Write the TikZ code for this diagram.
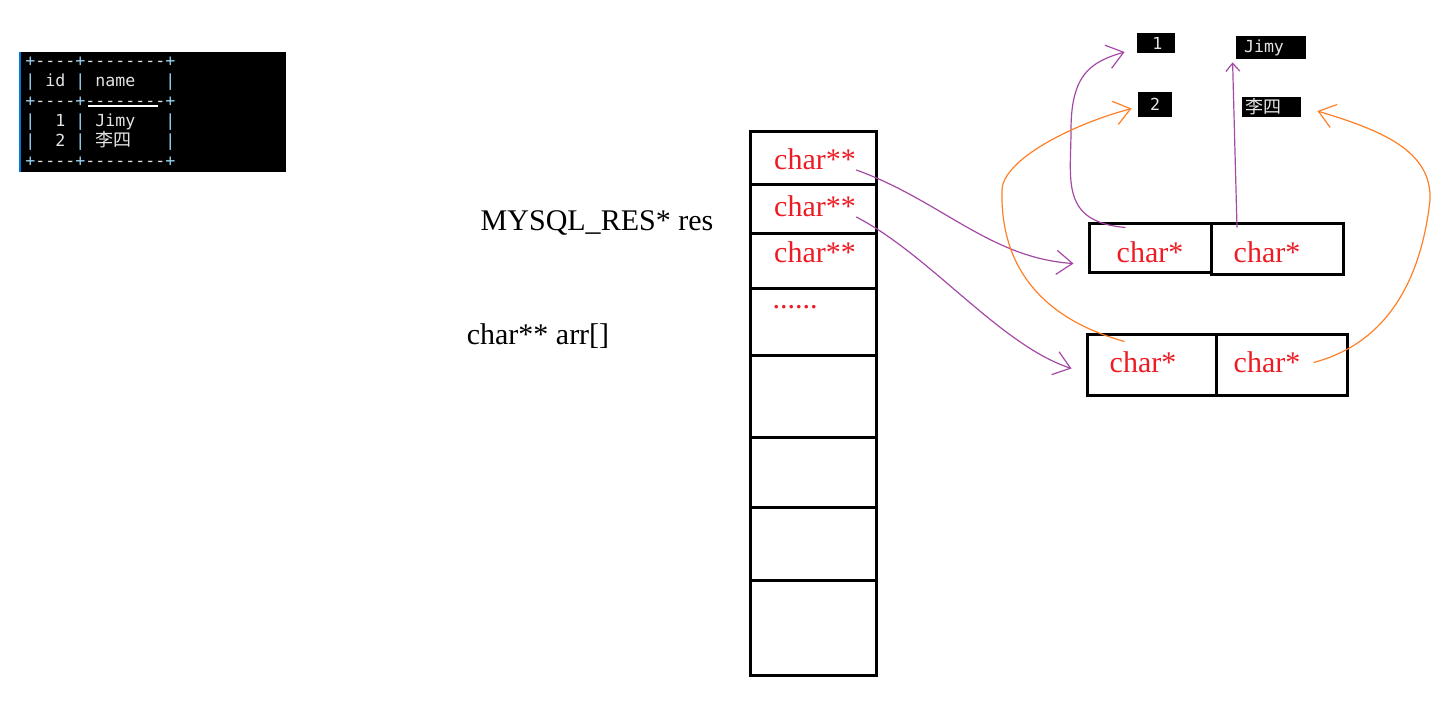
\documentclass[tikz,border=0pt]{standalone}
\usepackage{fontspec}
\setmainfont{Liberation Serif}
\setmonofont{DejaVu Sans Mono}
\newfontfamily\cjk{Noto Sans CJK SC}
\usetikzlibrary{arrows.meta}
\definecolor{inkred}{RGB}{237,28,36}
\definecolor{inkpurple}{RGB}{163,73,164}
\definecolor{inkorange}{RGB}{255,127,39}
\definecolor{termtxt}{RGB}{228,228,228}
\definecolor{termbd}{RGB}{150,210,240}
\definecolor{termedge}{RGB}{0,120,215}
\newcommand{\tb}[1]{\textcolor{termbd}{#1}}

\begin{document}
\begin{tikzpicture}[x=.5pt,y=-.5pt,
    cell/.style={draw,line width=1.5pt,minimum width=63pt,inner sep=0pt},
    lbl/.style={font=\fontsize{15}{18}\selectfont},
    ptr/.style={lbl,text=inkred,inner sep=0pt},
    val/.style={fill=black,text=termtxt,font=\ttfamily\fontsize{8.3}{10}\selectfont,inner sep=0pt},
    tline/.style={anchor=west,inner sep=0pt,text=termtxt,font=\ttfamily\fontsize{8.3}{10}\selectfont,text height=6pt,text depth=1.5pt},
    pa/.style={inkpurple,line width=.6pt,-{Straight Barb[length=8pt,width=12pt]}},
    oa/.style={inkorange,line width=.6pt,-{Straight Barb[length=8pt,width=12pt]}}
  ]
    \useasboundingbox (0,0) rectangle (1439,709);
    % query result in the terminal
    \fill (20,52) rectangle (286,172);
    \draw[termedge,line width=1pt] (20,52) -- (20,172);
    \node[tline] (l1) at (25,62) {\tb{+}----\tb{+}--------\tb{+}};
    \node[tline] (l2) at (25,82) {\tb{|}~id~\tb{|}~name~~~\tb{|}};
    \node[tline] (l3) at (25,102) {\tb{+}----\tb{+}--------\tb{+}};
    \node[tline] (l4) at (25,122) {\tb{|}~~1~\tb{|}~Jimy~~~\tb{|}};
    \node[tline] (l5) at (25,142) {\tb{|}~~2~\tb{|}~\makebox[20pt][l]{\cjk\fontsize{9}{10}\selectfont 李四}~~~\tb{|}};
    \node[tline] (l6) at (25,162) {\tb{+}----\tb{+}--------\tb{+}};
    \draw[white,line width=.6pt] (88,106) -- (158,106);
    % labels
    \node[lbl] (res) at (597,223) {MYSQL\_RES* res};
    \node[lbl] (arr) at (538,336) {char** arr[]};
    % the array of rows
    \foreach \n/\y/\h in {1/157.5/26.5,2/208.5/24.5,3/260.5/27.5,4/321.5/33.5,5/396/41,6/472/35,7/543.5/36.5,8/627.5/47.5}
      {\node[cell,minimum height=\h pt] (a\n) at (813,\y) {};}
    \node[ptr] (s1) at (815,159) {char**};
    \node[ptr] (s2) at (815,206) {char**};
    \node[ptr] (s3) at (815,252) {char**};
    \node[ptr] (dots) at (795,307) {......};
    % rows of fields
    \node[cell,minimum width=61pt,minimum height=24.5pt] (p1) at (1150,247.5) {};
    \node[cell,minimum width=66pt,minimum height=25.5pt] (p2) at (1277,248.5) {};
    \node[cell,minimum width=64.5pt,minimum height=30.5pt] (q1) at (1151.5,364.5) {};
    \node[cell,minimum width=65.5pt,minimum height=30.5pt] (q2) at (1281.5,364.5) {};
    \node[ptr] (t1) at (1150,252) {char*};
    \node[ptr] (t2) at (1267,252) {char*};
    \node[ptr] (t3) at (1143,362) {char*};
    \node[ptr] (t4) at (1267,362) {char*};
    % values
    \node[val,minimum width=19pt,minimum height=10pt] (b1) at (1156,43) {\,1};
    \node[val,minimum width=35pt,minimum height=11.5pt,text width=27pt,align=left,inner xsep=4pt] (bj) at (1271,47.5) {Jimy};
    \node[val,minimum width=17pt,minimum height=12.5pt] (b2) at (1155,104.5) {2};
    \node[val,minimum width=29.5pt,minimum height=10pt,text width=26.5pt,align=left,inner xsep=1.5pt,font=\cjk\fontsize{9}{10}\selectfont] (bl) at (1271.5,107) {李四};
    % pointers
    \draw[pa] (s1.south east) .. controls (940,200) and (990,258) .. ([shift={(-7pt,-8pt)}]p1.west);
    \draw[pa] (s2.south east) .. controls (930,255) and (1000,345) .. ([shift={(-7pt,-2pt)}]q1.west);
    \draw[pa] ([shift={(19pt,-3pt)}]p1.north west) .. controls (1060,222) and (1071,180) .. (1071,130)
      .. controls (1071,75) and (1090,62) .. ([shift={(-6pt,-4.5pt)}]b1.west);
    \draw[pa,-{Straight Barb[length=4pt,width=7pt]}] ([shift={(-20pt,-3pt)}]p2.north) -- ([shift={(-1.5pt,-1.5pt)}]bj.south west);
    \draw[oa] ([shift={(-13.5pt,-4.5pt)}]q1.north) .. controls (1040,318) and (1000,265) .. (1002,190)
      .. controls (1003,160) and (1070,125) .. ([shift={(-3pt,-2pt)}]b2.west);
    \draw[oa] ([shift={(16pt,1pt)}]q2.center) .. controls (1380,345) and (1420,290) .. (1430,200)
      .. controls (1432,150) and (1380,130) .. ([shift={(8pt,-2pt)}]bl.east);
  \end{tikzpicture}
\end{document}
